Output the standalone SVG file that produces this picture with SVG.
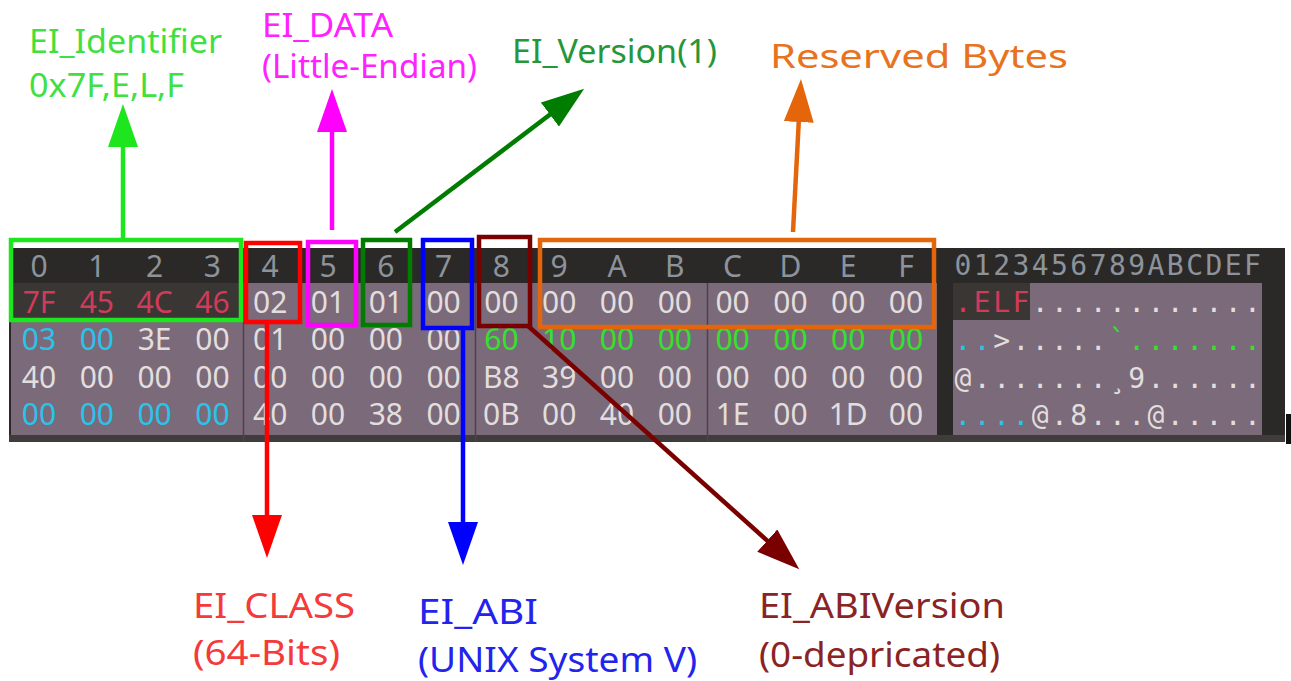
<svg xmlns="http://www.w3.org/2000/svg" width="1291" height="681" viewBox="0 0 1291 681">
<style>
  .hx { font-family: "Noto Sans", "DejaVu Sans", sans-serif; font-size: 30px; text-anchor: middle; }
  .asc { font-family: "DejaVu Sans Mono", "Liberation Mono", monospace; font-size: 28px; text-anchor: middle; }
  .hd { fill: #8d939b; }
  .wh { fill: #e2dede; }
  .rd { fill: #d23a5a; }
  .cy { fill: #2bc3ea; }
  .gr { fill: #35e02e; }
  .lbl { font-family: "Noto Sans", "Open Sans", sans-serif; font-size: 32px; }
  .lblb { font-family: "Noto Sans", "Open Sans", sans-serif; font-size: 34px; }
  .box { fill: none; stroke-width: 4.5; }
  .con { fill: none; stroke-width: 4.5; }
  .sep { stroke: #4c434c; stroke-width: 1.5; }
</style>
<defs>
  <marker id="ah-lime" markerUnits="userSpaceOnUse" viewBox="0 0 44 30" markerWidth="44" markerHeight="30" refX="1" refY="15" orient="auto"><path d="M0,0 L43,15 L0,30 z" fill="#1ee61e"/></marker>
  <marker id="ah-mag" markerUnits="userSpaceOnUse" viewBox="0 0 44 30" markerWidth="44" markerHeight="30" refX="1" refY="15" orient="auto"><path d="M0,0 L43,15 L0,30 z" fill="#ff00ff"/></marker>
  <marker id="ah-dg" markerUnits="userSpaceOnUse" viewBox="0 0 44 30" markerWidth="44" markerHeight="30" refX="1" refY="15" orient="auto"><path d="M0,0 L43,15 L0,30 z" fill="#007d00"/></marker>
  <marker id="ah-or" markerUnits="userSpaceOnUse" viewBox="0 0 44 30" markerWidth="44" markerHeight="30" refX="1" refY="15" orient="auto"><path d="M0,0 L43,15 L0,30 z" fill="#e5650a"/></marker>
  <marker id="ah-red" markerUnits="userSpaceOnUse" viewBox="0 0 44 30" markerWidth="44" markerHeight="30" refX="1" refY="15" orient="auto"><path d="M0,0 L43,15 L0,30 z" fill="#ff0000"/></marker>
  <marker id="ah-blue" markerUnits="userSpaceOnUse" viewBox="0 0 44 30" markerWidth="44" markerHeight="30" refX="1" refY="15" orient="auto"><path d="M0,0 L43,15 L0,30 z" fill="#0000ff"/></marker>
  <marker id="ah-mar" markerUnits="userSpaceOnUse" viewBox="0 0 44 30" markerWidth="44" markerHeight="30" refX="1" refY="15" orient="auto"><path d="M0,0 L43,15 L0,30 z" fill="#7a0000"/></marker>
</defs>
<rect x="0" y="0" width="1291" height="681" fill="#ffffff"/>

<g id="hexdump">
  <rect x="9" y="248" width="1276" height="194" fill="#2b2927"/>
  <rect x="9" y="435" width="1276" height="7" fill="#403c3b"/>
  <rect x="11" y="283" width="926" height="152" fill="#7b6a79"/>
  <rect x="11" y="283" width="232" height="37" fill="#3a3634"/>
  <rect x="953" y="283" width="309" height="152" fill="#7b6a79"/>
  <rect x="953" y="283" width="77" height="37" fill="#3a3634"/>
  <rect x="1286" y="414" width="5" height="30" fill="#111111"/>
  <line class="sep" x1="243.5" y1="283" x2="243.5" y2="442"/>
  <line class="sep" x1="475.5" y1="283" x2="475.5" y2="442"/>
  <line class="sep" x1="707.5" y1="283" x2="707.5" y2="442"/>

  <text class="hx hd" y="277" x="39 96.8 154.6 212.4 270.2 328 385.8 443.6 501.4 559.2 617 674.8 732.6 790.4 848.2 906">0123456789ABCDEF</text>

  <text class="hx" y="313"><tspan class="rd" x="39">7F</tspan><tspan class="rd" x="96.8">45</tspan><tspan class="rd" x="154.6">4C</tspan><tspan class="rd" x="212.4">46</tspan><tspan class="wh" x="270.2">02</tspan><tspan class="wh" x="328">01</tspan><tspan class="wh" x="385.8">01</tspan><tspan class="wh" x="443.6">00</tspan><tspan class="wh" x="501.4">00</tspan><tspan class="wh" x="559.2">00</tspan><tspan class="wh" x="617">00</tspan><tspan class="wh" x="674.8">00</tspan><tspan class="wh" x="732.6">00</tspan><tspan class="wh" x="790.4">00</tspan><tspan class="wh" x="848.2">00</tspan><tspan class="wh" x="906">00</tspan></text>

  <text class="hx" y="350"><tspan class="cy" x="39">03</tspan><tspan class="cy" x="96.8">00</tspan><tspan class="wh" x="154.6">3E</tspan><tspan class="wh" x="212.4">00</tspan><tspan class="wh" x="270.2">01</tspan><tspan class="wh" x="328">00</tspan><tspan class="wh" x="385.8">00</tspan><tspan class="wh" x="443.6">00</tspan><tspan class="gr" x="501.4">60</tspan><tspan class="gr" x="559.2">10</tspan><tspan class="gr" x="617">00</tspan><tspan class="gr" x="674.8">00</tspan><tspan class="gr" x="732.6">00</tspan><tspan class="gr" x="790.4">00</tspan><tspan class="gr" x="848.2">00</tspan><tspan class="gr" x="906">00</tspan></text>

  <text class="hx wh" y="388"><tspan x="39">40</tspan><tspan x="96.8">00</tspan><tspan x="154.6">00</tspan><tspan x="212.4">00</tspan><tspan x="270.2">00</tspan><tspan x="328">00</tspan><tspan x="385.8">00</tspan><tspan x="443.6">00</tspan><tspan x="501.4">B8</tspan><tspan x="559.2">39</tspan><tspan x="617">00</tspan><tspan x="674.8">00</tspan><tspan x="732.6">00</tspan><tspan x="790.4">00</tspan><tspan x="848.2">00</tspan><tspan x="906">00</tspan></text>

  <text class="hx" y="425"><tspan class="cy" x="39">00</tspan><tspan class="cy" x="96.8">00</tspan><tspan class="cy" x="154.6">00</tspan><tspan class="cy" x="212.4">00</tspan><tspan class="wh" x="270.2">40</tspan><tspan class="wh" x="328">00</tspan><tspan class="wh" x="385.8">38</tspan><tspan class="wh" x="443.6">00</tspan><tspan class="wh" x="501.4">0B</tspan><tspan class="wh" x="559.2">00</tspan><tspan class="wh" x="617">40</tspan><tspan class="wh" x="674.8">00</tspan><tspan class="wh" x="732.6">1E</tspan><tspan class="wh" x="790.4">00</tspan><tspan class="wh" x="848.2">1D</tspan><tspan class="wh" x="906">00</tspan></text>

  <text class="asc hd" y="275" x="963 982.3 1001.6 1020.9 1040.2 1059.5 1078.8 1098.1 1117.4 1136.7 1156 1175.3 1194.6 1213.9 1233.2 1252.5">0123456789ABCDEF</text>
  <text class="asc rd" y="312" x="963 982.3 1001.6 1020.9">.ELF</text>
  <text class="asc wh" y="312" x="1040.2 1059.5 1078.8 1098.1 1117.4 1136.7 1156 1175.3 1194.6 1213.9 1233.2 1252.5">............</text>
  <text class="asc cy" y="350" x="963 982.3">..</text>
  <text class="asc wh" y="350" x="1001.6 1020.9 1040.2 1059.5 1078.8 1098.1">&gt;.....</text>
  <text class="asc gr" y="350" x="1117.4 1136.7 1156 1175.3 1194.6 1213.9 1233.2 1252.5">`.......</text>
  <text class="asc wh" y="388" x="963 982.3 1001.6 1020.9 1040.2 1059.5 1078.8 1098.1 1117.4 1136.7 1156 1175.3 1194.6 1213.9 1233.2 1252.5">@.......¸9......</text>
  <text class="asc cy" y="425" x="963 982.3 1001.6 1020.9">....</text>
  <text class="asc wh" y="425" x="1040.2 1059.5 1078.8 1098.1 1117.4 1136.7 1156 1175.3 1194.6 1213.9 1233.2 1252.5">@.8...@.....</text>
</g>

<g id="ei-identifier">
  <rect class="box" x="11" y="240" width="230" height="80" stroke="#1ee61e"/>
  <text class="lbl" x="29" y="53" fill="#3fe03f" textLength="193" lengthAdjust="spacingAndGlyphs">EI_Identifier</text>
  <text class="lbl" x="29" y="97" fill="#3fe03f" textLength="155" lengthAdjust="spacingAndGlyphs">0x7F,E,L,F</text>
</g>
<g id="ei-class">
  <rect class="box" x="246" y="243" width="54" height="79" stroke="#ff0000"/>
  <text class="lblb" x="193" y="618" fill="#f43a3a" textLength="162" lengthAdjust="spacingAndGlyphs">EI_CLASS</text>
  <text class="lblb" x="193" y="665" fill="#f43a3a" textLength="147" lengthAdjust="spacingAndGlyphs">(64-Bits)</text>
</g>
<g id="ei-data">
  <rect class="box" x="308" y="242" width="48" height="83" stroke="#ff00ff"/>
  <text class="lbl" x="262" y="37" fill="#ff22ff" textLength="131" lengthAdjust="spacingAndGlyphs">EI_DATA</text>
  <text class="lbl" x="262" y="78" fill="#ff22ff" textLength="215" lengthAdjust="spacingAndGlyphs">(Little-Endian)</text>
</g>
<g id="ei-version">
  <rect class="box" x="363" y="240" width="47" height="85" stroke="#007d00"/>
  <text class="lbl" x="512" y="63" fill="#25963a" textLength="205" lengthAdjust="spacingAndGlyphs">EI_Version(1)</text>
</g>
<g id="ei-abi">
  <rect class="box" x="423" y="240" width="49" height="88" stroke="#0000ff"/>
  <text class="lblb" x="418" y="624" fill="#2323ee" textLength="120" lengthAdjust="spacingAndGlyphs">EI_ABI</text>
  <text class="lblb" x="418" y="672" fill="#2323ee" textLength="279" lengthAdjust="spacingAndGlyphs">(UNIX System V)</text>
</g>
<g id="ei-abiversion">
  <rect class="box" x="479" y="237" width="51" height="89" stroke="#7a0000"/>
  <text class="lblb" x="759" y="618" fill="#8a2424" textLength="246" lengthAdjust="spacingAndGlyphs">EI_ABIVersion</text>
  <text class="lblb" x="759" y="667" fill="#8a2424" textLength="241" lengthAdjust="spacingAndGlyphs">(0-depricated)</text>
</g>
<g id="reserved">
  <rect class="box" x="540" y="240" width="394" height="87" stroke="#e5650a"/>
  <text class="lbl" x="770" y="68" fill="#e8731e" font-size="42" textLength="298" lengthAdjust="spacingAndGlyphs">Reserved Bytes</text>
</g>

<g id="connectors">
  <path class="con" d="M123,238 L123,146" stroke="#1ee61e" marker-end="url(#ah-lime)"/>
  <path class="con" d="M332,230 L332,131" stroke="#ff00ff" marker-end="url(#ah-mag)"/>
  <path class="con" d="M395,232 L550.7,114" stroke="#007d00" marker-end="url(#ah-dg)"/>
  <path class="con" d="M793,232 L798.8,121" stroke="#e5650a" marker-end="url(#ah-or)"/>
  <path class="con" d="M267,322 L267,516" stroke="#ff0000" marker-end="url(#ah-red)"/>
  <path class="con" d="M463,328 L463,523" stroke="#0000ff" marker-end="url(#ah-blue)"/>
  <path class="con" d="M527,325 L768,541.3" stroke="#7a0000" marker-end="url(#ah-mar)"/>
</g>
</svg>
